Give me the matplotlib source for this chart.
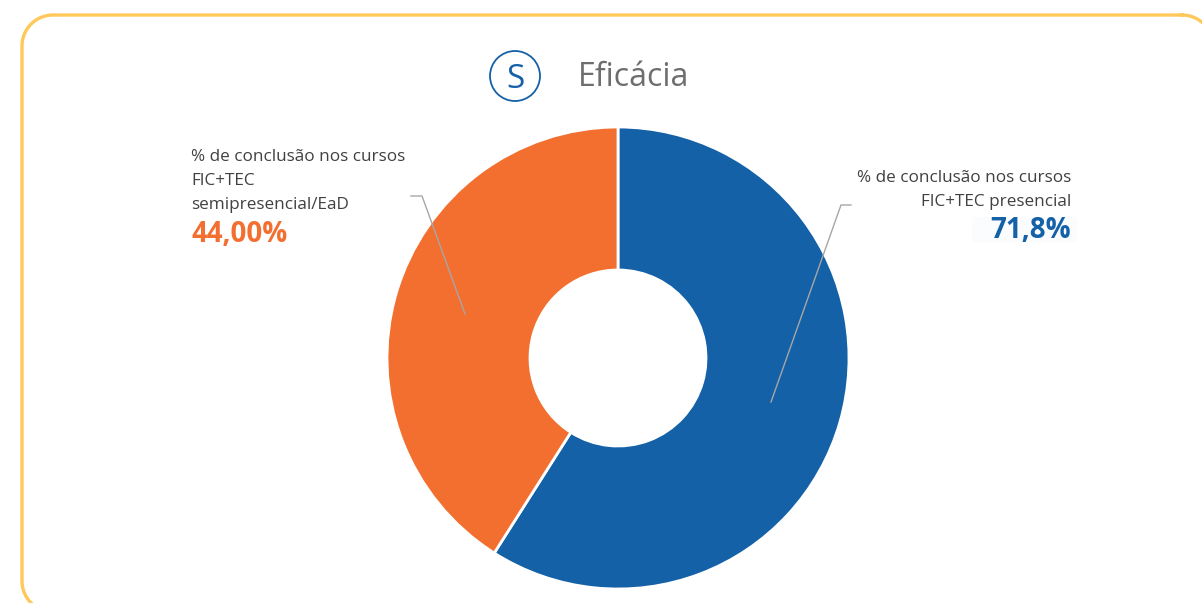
import numpy as np
import matplotlib
matplotlib.use("Agg")
import matplotlib.pyplot as plt
from matplotlib.patches import Circle, Rectangle

W, H = 1202, 603

title = "Eficácia"
badge = "S"
# slice shares as drawn in the picture (the printed labels do not add up to them)
shares = [59.0, 41.0]
colors = ["#1461A8", "#F26F30"]
left_label = ["% de conclusão nos cursos", "FIC+TEC", "semipresencial/EaD"]
left_value = "44,00%"
right_label = ["% de conclusão nos cursos", "FIC+TEC presencial"]
right_value = "71,8%"

plt.rcParams["font.family"] = ["Open Sans", "DejaVu Sans"]


def rounded_outline(x0, y0, x1, y1, rad):
    # closed outline with true circular corners
    corners = [(x1 - rad, y0 + rad, -90), (x1 - rad, y1 - rad, 0),
               (x0 + rad, y1 - rad, 90), (x0 + rad, y0 + rad, 180)]
    xs, ys = [], []
    for cx, cy, start in corners:
        t = np.radians(np.linspace(start, start + 90, 30))
        xs.extend(cx + rad * np.cos(t))
        ys.extend(cy + rad * np.sin(t))
    return xs + xs[:1], ys + ys[:1]


fig = plt.figure(figsize=(W / 100, H / 100), dpi=100)
ax = fig.add_axes([0, 0, 1, 1])
ax.set_xlim(0, W)
ax.set_ylim(H, 0)
ax.axis("off")

# rounded card, runs off the right and bottom of the picture
card_x, card_y = rounded_outline(22, 15, 1213, 612, 31)
ax.plot(card_x, card_y, color="#FFC85A", linewidth=2.4)

# title and badge
ax.add_patch(Circle((515, 76), 25, fill=False, edgecolor="#1461A8", linewidth=1.3))
ax.text(515, 80, badge, color="#1461A8", fontsize=24, ha="center", va="center")
ax.text(578, 77, title, color="#6E6E6E", fontsize=23, ha="left", va="center")

# donut drawn in its own axes so the pie scale stays round
cx, cy, r = 618, 358, 231
pie_ax = fig.add_axes([(cx - r) / W, 1 - (cy + r) / H, 2 * r / W, 2 * r / H])
pie_ax.pie(shares, colors=colors, startangle=90, counterclock=False, radius=1,
           wedgeprops=dict(width=0.619, edgecolor="white", linewidth=2))
pie_ax.set_xlim(-1, 1)
pie_ax.set_ylim(-1, 1)

# overlay for leader lines, above the donut
top = fig.add_axes([0, 0, 1, 1])
top.set_xlim(0, W)
top.set_ylim(H, 0)
top.axis("off")
top.patch.set_alpha(0)
top.plot([411, 422, 465], [196, 196, 314], color="#A6A6A6", linewidth=1)
top.plot([851, 841, 771], [205, 205, 402], color="#A6A6A6", linewidth=1)

# left annotation
for i, line in enumerate(left_label):
    top.text(191, 157 + i * 24, line, color="#404040", fontsize=12.35, ha="left", va="center")
top.text(191, 235, left_value, color="#F26F30", fontsize=20, fontweight="bold", ha="left", va="center")

# right annotation, with the faint box behind the value
top.add_patch(Rectangle((972, 217), 105, 25, facecolor="#FBFCFE", edgecolor="none"))
for i, line in enumerate(right_label):
    top.text(1071, 178 + i * 24, line, color="#404040", fontsize=12.35, ha="right", va="center")
top.text(1071, 231, right_value, color="#1461A8", fontsize=20, fontweight="bold", ha="right", va="center")

fig.savefig("out.png", dpi=100)
